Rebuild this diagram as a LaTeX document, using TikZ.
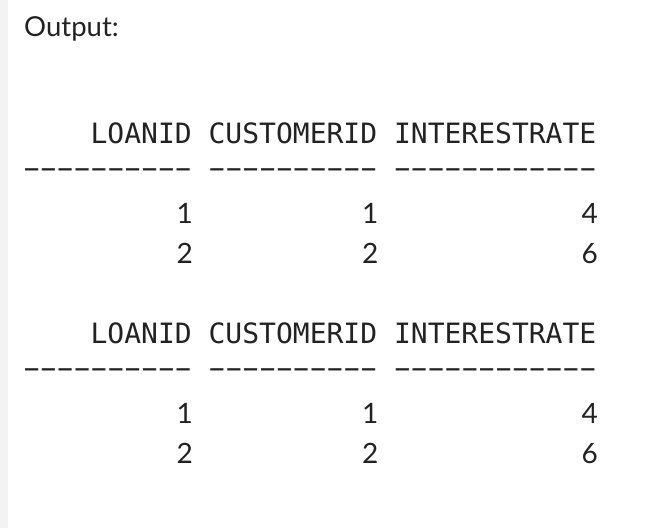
\documentclass[tikz,border=0pt]{standalone}
\usepackage{graphicx}
\usepackage{fontspec}
\setmainfont{Lato}
\newfontfamily\monofnt{DejaVu Sans Mono}
\newfontfamily\latofnt{Lato}
\definecolor{txt}{HTML}{222222}
\definecolor{strip}{HTML}{F3F3F3}
\newcommand\dsh{\makebox[0.602em][c]{\scalebox{1.85}[1]{-}}}
\begin{document}
\begin{tikzpicture}[x=1pt,y=-1pt,
  mono/.style={inner sep=0pt,anchor=base west,text=txt,font=\fontsize{28}{28}\selectfont\monofnt},
  num/.style={inner sep=0pt,anchor=base east,text=txt,font=\fontsize{28}{28}\selectfont\latofnt},
  lbl/.style={inner sep=0pt,anchor=base west,text=txt,font=\fontsize{27.5}{28}\selectfont\latofnt}]
\useasboundingbox (0,0) rectangle (652,528);
\fill[white] (0,0) rectangle (652,528);
\fill[strip] (0,0) rectangle (8,528);
\node[lbl] (out) at (24,36) {Output:};
\foreach \dy/\t in {0/a,200/b}{
  \node[mono] (\t h) at (23,143+\dy) {\phantom{0000}LOANID CUSTOMERID INTERESTRATE};
  \node[mono] (\t d) at (23,177+\dy) {\dsh\dsh\dsh\dsh\dsh\dsh\dsh\dsh\dsh\dsh{} \dsh\dsh\dsh\dsh\dsh\dsh\dsh\dsh\dsh\dsh{} \dsh\dsh\dsh\dsh\dsh\dsh\dsh\dsh\dsh\dsh\dsh\dsh};
  \node[num] (\t r1c1) at (193,223+\dy) {1};
  \node[num] (\t r1c2) at (378.5,223+\dy) {1};
  \node[num] (\t r1c3) at (598,223+\dy) {4};
  \node[num] (\t r2c1) at (193,263+\dy) {2};
  \node[num] (\t r2c2) at (378.5,263+\dy) {2};
  \node[num] (\t r2c3) at (598,263+\dy) {6};
}
\end{tikzpicture}
\end{document}
